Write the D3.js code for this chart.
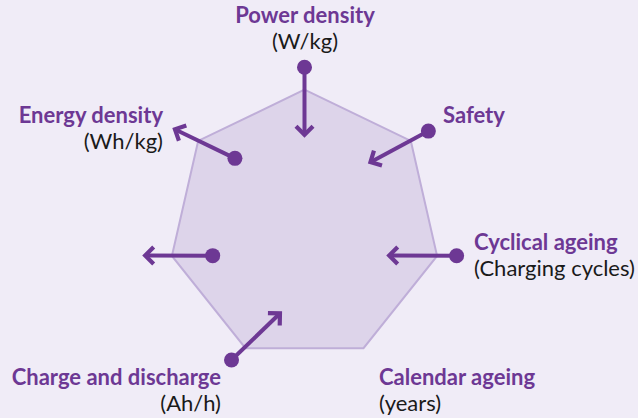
<!DOCTYPE html>
<html>
<head>
<meta charset="utf-8">
<script src="https://cdn.jsdelivr.net/npm/d3@7"></script>
<style>
  html, body { margin: 0; padding: 0; background: #f0ecf7; }
  svg { display: block; }
</style>
</head>
<body>
<svg id="chart" width="638" height="418"></svg>
<script>
// ---------- data ----------
const axisNames = ["Power density", "Safety", "Cyclical ageing", "Calendar ageing", "Charge and discharge", "", "Energy density"];
const axisUnits = ["(W/kg)", "", "(Charging cycles)", "(years)", "(Ah/h)", "", "(Wh/kg)"];
const polygonValues = [100, 100, 100, 100, 100, 100, 100];
// arrows: start (dot) value and end (head) value on each axis; null = no arrow
const arrowFrom = [116.5, 114.6, 114, null, 112.4, 71, 71.2];
const arrowTo   = [65, 65.6, 64.3, null, 65.4, 121, 120.5];
// small angular shifts (degrees) of dot / head from the axis
const arrowFromShift = [0, 1.2, -1.7, 0, 2.8, -5.2, 5.5];
const arrowToShift   = [0, -5.8, 7.1, 0, -10.9, 2.4, -2.1];

// ---------- layout ----------
const W = 638, H = 418;
const cx = 304.5, cy = 225.7;
const purple = "#6d3894";
const svg = d3.select("#chart");
svg.append("rect").attr("width", W).attr("height", H).attr("fill", "#f0ecf7");

const n = axisNames.length;
const angleScale = d3.scaleLinear().domain([0, n]).range([0, 2 * Math.PI]);
const rScale = d3.scaleLinear().domain([0, 100]).range([0, 136]);

const g = svg.append("g").attr("transform", `translate(${cx},${cy})`);

const radial = d3.lineRadial()
  .angle((d, i) => angleScale(i))
  .radius(d => rScale(d))
  .curve(d3.curveLinearClosed);

g.append("path")
  .attr("d", radial(polygonValues))
  .attr("fill", "#ddd4ea")
  .attr("stroke", "#bfaed8")
  .attr("stroke-width", 2);

function pt(value, i, shiftDeg) {
  const a = angleScale(i) + shiftDeg * Math.PI / 180;
  const rr = rScale(value);
  return [rr * Math.sin(a), -rr * Math.cos(a)];
}

const arrows = d3.range(n).filter(i => arrowFrom[i] != null).map(i => {
  const p0 = pt(arrowFrom[i], i, arrowFromShift[i]);
  const p1 = pt(arrowTo[i], i, arrowToShift[i]);
  return { i, p0, p1 };
});

const ag = g.selectAll("g.arrow").data(arrows).join("g").attr("class", "arrow");
ag.each(function(d) {
  const sel = d3.select(this);
  const dx = d.p1[0] - d.p0[0], dy = d.p1[1] - d.p0[1];
  const len = Math.hypot(dx, dy);
  const ux = dx / len, uy = dy / len;
  const tipX = d.p1[0] - ux * 2.5, tipY = d.p1[1] - uy * 2.5;
  sel.append("line")
    .attr("x1", d.p0[0]).attr("y1", d.p0[1])
    .attr("x2", tipX - ux * 2).attr("y2", tipY - uy * 2)
    .attr("stroke", purple).attr("stroke-width", 4);
  const ang = Math.atan2(dy, dx) * 180 / Math.PI;
  sel.append("path")
    .attr("transform", `translate(${tipX},${tipY}) rotate(${ang})`)
    .attr("d", "M-8.5,-8.5L0,0L-8.5,8.5")
    .attr("fill", "none")
    .attr("stroke", purple)
    .attr("stroke-width", 4.2)
    .attr("stroke-linejoin", "miter");
  sel.append("circle")
    .attr("cx", d.p0[0]).attr("cy", d.p0[1]).attr("r", 7.5)
    .attr("fill", purple);
});

// ---------- labels ----------
const labelLayout = [
  { x: 305, y: 23, anchor: "middle" },
  { x: 443, y: 123, anchor: "start" },
  { x: 474, y: 250, anchor: "start" },
  { x: 379, y: 385, anchor: "start" },
  { x: 221, y: 385, anchor: "end" },
  null,
  { x: 163, y: 123, anchor: "end" }
];
const lg = svg.append("g");
axisNames.forEach((name, i) => {
  const L = labelLayout[i];
  if (!L || !name) return;
  lg.append("text")
    .attr("x", L.x).attr("y", L.y)
    .attr("text-anchor", L.anchor)
    .attr("font-family", "Lato, 'Open Sans', sans-serif")
    .attr("font-weight", 700)
    .attr("font-size", 22)
    .attr("fill", purple)
    .text(name);
  if (axisUnits[i]) {
    lg.append("text")
      .attr("x", L.x).attr("y", L.y + 26)
      .attr("text-anchor", L.anchor)
      .attr("font-family", "Lato, 'Open Sans', sans-serif")
      .attr("font-size", 22)
      .attr("fill", "#1a1a1a")
      .text(axisUnits[i]);
  }
});
</script>
</body>
</html>
